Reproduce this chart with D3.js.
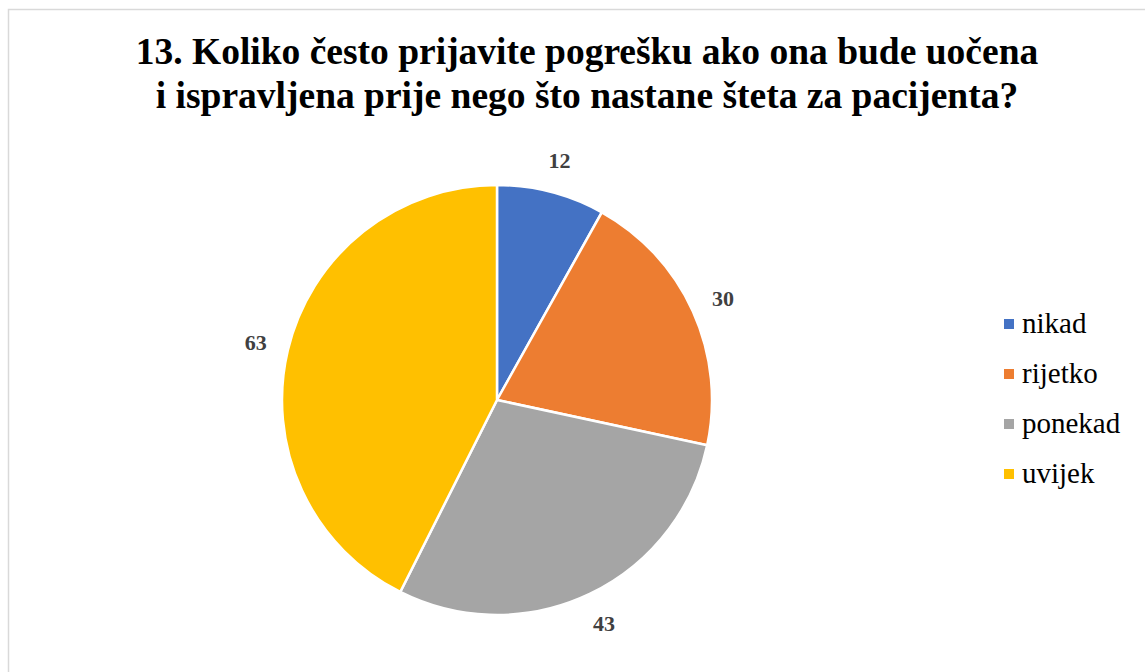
<!DOCTYPE html>
<meta charset="utf-8">
<style>
body { margin: 0; background: #fff; }
</style>
<script src="https://cdn.jsdelivr.net/npm/d3@7/dist/d3.min.js"></script>
<body>
<script>
// chart data
var titleLines = ["13. Koliko često prijavite pogrešku ako ona bude uočena",
                  "i ispravljena prije nego što nastane šteta za pacijenta?"];
var categories = ["nikad", "rijetko", "ponekad", "uvijek"];
var values = [12, 30, 43, 63];
var colors = ["#4472C4", "#ED7D31", "#A5A5A5", "#FFC000"];

var FONT = "'Liberation Serif', 'Times New Roman', serif";
var W = 1145, H = 672;
var cx = 497, cy = 400, r = 215;

var svg = d3.select("body").append("svg")
  .attr("width", W)
  .attr("height", H)
  .style("font-family", FONT);

// chart frame
svg.append("rect")
  .attr("x", 8.5).attr("y", 9.5)
  .attr("width", W).attr("height", H)
  .attr("fill", "#fff")
  .attr("stroke", "#d9d9d9")
  .attr("stroke-width", 1.5);

svg.selectAll("text.title")
  .data(titleLines)
  .enter()
  .append("text")
  .attr("class", "title")
  .attr("x", 587)
  .attr("y", function(d, i) { return 64 + i * 44; })
  .attr("text-anchor", "middle")
  .attr("font-size", "37.5px")
  .attr("font-weight", "bold")
  .attr("fill", "#000")
  .text(function(d) { return d; });

var data = categories.map(function(c, i) { return {name: c, value: values[i], color: colors[i]}; });

var pie = d3.pie().sort(null).value(function(d) { return d.value; });
var arc = d3.arc().innerRadius(0).outerRadius(r);
var labelArc = d3.arc().innerRadius(r + 33).outerRadius(r + 33);

var g = svg.append("g").attr("transform", "translate(" + cx + "," + cy + ")");

var arcs = pie(data);

g.selectAll("path")
  .data(arcs)
  .enter()
  .append("path")
  .attr("d", arc)
  .attr("fill", function(d) { return d.data.color; })
  .attr("stroke", "#fff")
  .attr("stroke-width", 2.5);

g.selectAll("text.lbl")
  .data(arcs)
  .enter()
  .append("text")
  .attr("class", "lbl")
  .attr("transform", function(d) { return "translate(" + labelArc.centroid(d) + ")"; })
  .attr("text-anchor", "middle")
  .attr("dy", "0.35em")
  .attr("font-size", "22px")
  .attr("font-weight", "bold")
  .attr("fill", "#404040")
  .text(function(d) { return d.data.value; });

// legend
var legend = svg.selectAll("g.leg")
  .data(data)
  .enter()
  .append("g")
  .attr("class", "leg")
  .attr("transform", function(d, i) { return "translate(1004," + (333 + i * 50) + ")"; });

legend.append("rect")
  .attr("x", 0).attr("y", -14)
  .attr("width", 10).attr("height", 10)
  .attr("fill", function(d) { return d.color; });

legend.append("text")
  .attr("x", 18)
  .attr("y", 0)
  .attr("font-size", "29px")
  .attr("fill", "#000")
  .text(function(d) { return d.name; });
</script>
</body>
